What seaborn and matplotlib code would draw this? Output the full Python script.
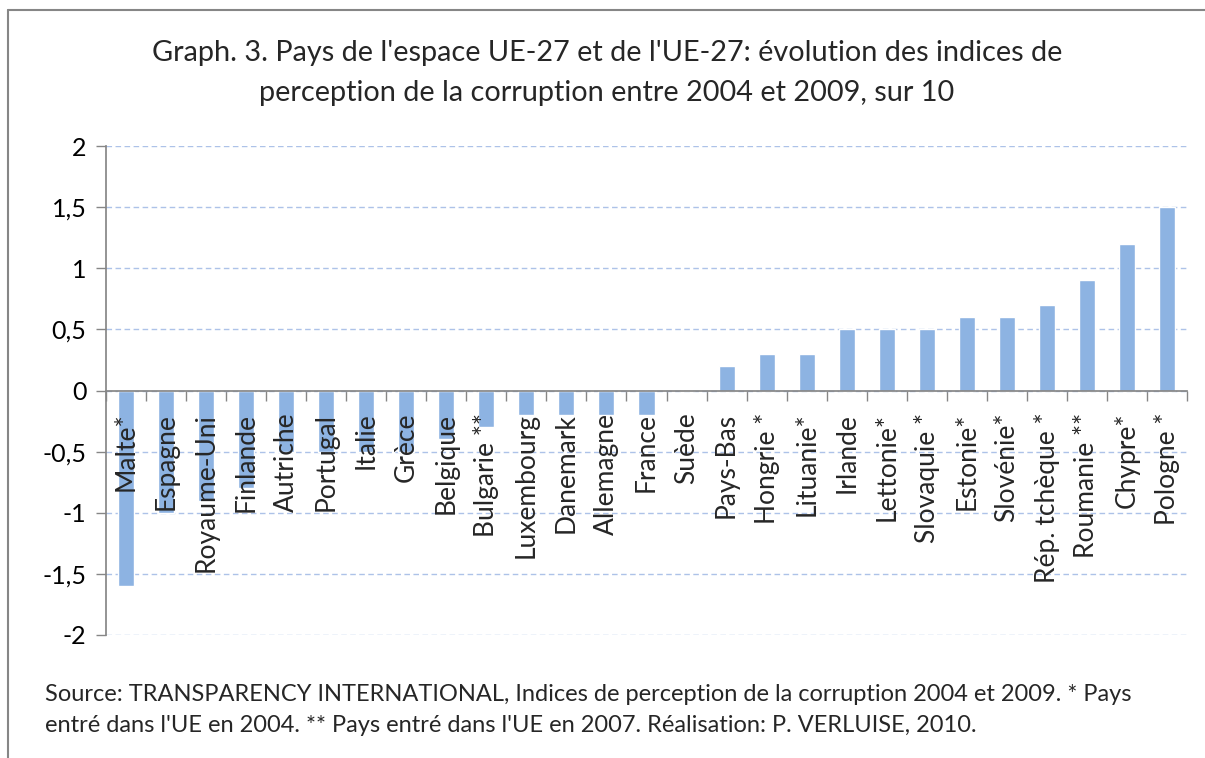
import numpy as np
import pandas as pd
import seaborn as sns
import matplotlib.pyplot as plt
from matplotlib.lines import Line2D

# Données
pays = ["Malte*", "Espagne", "Royaume-Uni", "Finlande", "Autriche", "Portugal",
        "Italie", "Grèce", "Belgique", "Bulgarie **", "Luxembourg", "Danemark",
        "Allemagne", "France", "Suède", "Pays-Bas", "Hongrie *", "Lituanie*",
        "Irlande", "Lettonie*", "Slovaquie *", "Estonie*", "Slovénie*",
        "Rép. tchèque *", "Roumanie **", "Chypre*", "Pologne *"]
evolution = [-1.6, -1.0, -0.9, -0.8, -0.5, -0.5, -0.5, -0.5, -0.4, -0.3,
             -0.2, -0.2, -0.2, -0.2, 0.0, 0.2, 0.3, 0.3, 0.5, 0.5, 0.5,
             0.6, 0.6, 0.7, 0.9, 1.2, 1.5]
yticks = [-2, -1.5, -1, -0.5, 0, 0.5, 1, 1.5, 2]
ytick_labels = ["-2", "-1,5", "-1", "-0,5", "0", "0,5", "1", "1,5", "2"]

titre = ("Graph. 3. Pays de l'espace UE-27 et de l'UE-27: évolution des indices de\n"
         "perception de la corruption entre 2004 et 2009, sur 10")
source = ("Source: TRANSPARENCY INTERNATIONAL, Indices de perception de la corruption 2004 et 2009. * Pays\n"
          "entré dans l'UE en 2004. ** Pays entré dans l'UE en 2007. Réalisation: P. VERLUISE, 2010.")

df = pd.DataFrame({"pays": pays, "evolution": evolution})

# Style
sns.set_theme(style="white")
plt.rcParams["font.family"] = ["Lato", "DejaVu Sans"]

gris = "#868686"
bleu = "#8db3e2"

fig = plt.figure(figsize=(12.05, 7.58), dpi=100)
ax = fig.add_axes([106 / 1205, 1 - 635 / 758, (1187 - 106) / 1205, (635 - 146) / 758])

sns.barplot(data=df, x="pays", y="evolution", color=bleu, width=0.4,
            saturation=1, ax=ax)

# Axes
ax.set_ylim(-2, 2)
ax.set_xlim(-0.5, len(pays) - 0.5)
ax.set_yticks(yticks)
ax.set_yticklabels(ytick_labels, fontsize=18)
ax.set_xticks(np.arange(-0.5, len(pays), 1))
ax.set_xticklabels([])
ax.set_xlabel("")
ax.set_ylabel("")

ax.yaxis.grid(True, color="#adc2e8", linestyle=(0, (4, 2.5)), linewidth=1)
ax.set_axisbelow(True)

for s in ["top", "right"]:
    ax.spines[s].set_visible(False)
ax.spines["left"].set_color(gris)
ax.spines["bottom"].set_color(gris)
ax.spines["bottom"].set_position(("data", 0))
ax.spines["bottom"].set_zorder(5)
ax.tick_params(axis="both", direction="out", length=7, width=1, color=gris,
               left=True, bottom=True, pad=7)
ax.tick_params(axis="y", labelcolor="black")

# Étiquettes des pays sous la ligne zéro
for i, nom in enumerate(pays):
    ax.annotate(nom, xy=(i, 0), xytext=(0, -16), textcoords="offset points",
                rotation=90, ha="center", va="top", fontsize=19, zorder=6)

# Titre et source
fig.text(607 / 1205, 1 - 73 / 758, titre, ha="center", va="center",
         fontsize=20.8, linespacing=1.7)
fig.text(45 / 1205, 1 - 710 / 758, source, ha="left", va="center",
         fontsize=17, linespacing=1.6)

# Cadre extérieur
fig.add_artist(Line2D([8 / 1205, 8 / 1205], [0, 1 - 10 / 758], color=gris, lw=1.5))
fig.add_artist(Line2D([8 / 1205, 1], [1 - 10 / 758, 1 - 10 / 758], color=gris, lw=1.5))

fig.savefig("out.png", dpi=100)
